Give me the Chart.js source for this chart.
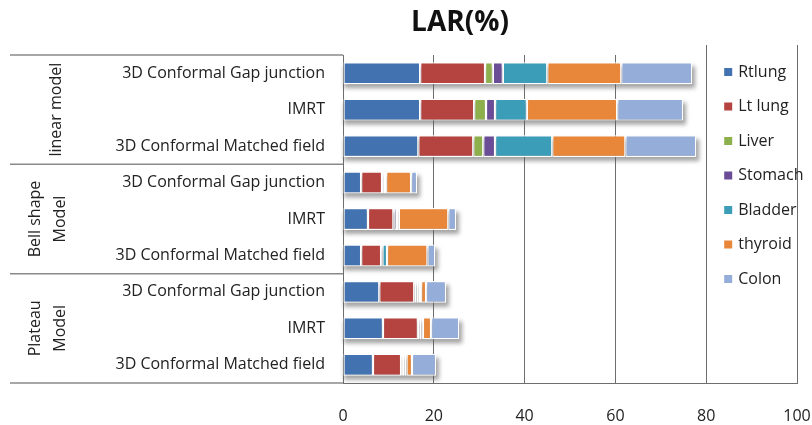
<!DOCTYPE html>
<html>
<head>
<meta charset="utf-8">
<script src="https://cdn.jsdelivr.net/npm/chart.js@4"></script>
<style>
  body { margin: 0; background: #fff; }
  canvas { display: block; }
</style>
</head>
<body>
<canvas id="grafico" width="812" height="425"></canvas>
<script>
// Datos (LAR %)
const tecnicas = [
  '3D Conformal Gap junction', 'IMRT', '3D Conformal Matched field',
  '3D Conformal Gap junction', 'IMRT', '3D Conformal Matched field',
  '3D Conformal Gap junction', 'IMRT', '3D Conformal Matched field'
];
const modelos = [['linear model'], ['Bell shape', 'Model'], ['Plateau', 'Model']];
const organos = ['Rtlung', 'Lt lung', 'Liver', 'Stomach', 'Bladder', 'thyroid', 'Colon'];

const rtlung  = [17.0, 17.0, 16.6, 4.0, 5.5, 4.0, 8.0, 8.8, 6.6];
const ltlung  = [14.3, 11.9, 12.1, 4.6, 5.6, 4.4, 7.7, 7.7, 6.2];
const liver   = [1.7, 2.6, 2.2, 0.0, 0.2, 0.0, 0.5, 0.3, 0.4];
const stomach = [2.2, 2.0, 2.6, 0.4, 0.6, 0.3, 0.5, 0.5, 0.4];
const bladder = [9.8, 7.0, 12.6, 0.5, 0.4, 1.0, 0.5, 0.3, 0.4];
const thyroid = [16.3, 19.9, 16.1, 5.5, 10.9, 8.9, 1.1, 1.8, 1.2];
const colon   = [15.6, 14.5, 15.6, 1.3, 1.7, 1.7, 4.4, 6.2, 5.3];

const ticksX = [0, 20, 40, 60, 80, 100];

const series = [rtlung, ltlung, liver, stomach, bladder, thyroid, colon];
const colores = ['#4372b0', '#b5433f', '#8db04c', '#6b4c97', '#3b9db8', '#e8873a', '#94add9'];

const fuente = '"Open Sans", "DejaVu Sans", sans-serif';

// Sombra debajo de cada barra apilada
const sombraBarras = {
  id: 'sombraBarras',
  beforeDatasetsDraw(chart) {
    const ctx = chart.ctx;
    const x = chart.scales.x;
    const primera = chart.getDatasetMeta(0);
    ctx.save();
    ctx.filter = 'blur(2px)';
    ctx.fillStyle = 'rgba(90,90,90,0.55)';
    tecnicas.forEach((t, i) => {
      const total = series.reduce((s, arr) => s + arr[i], 0);
      const bar = primera.data[i];
      const x0 = x.getPixelForValue(0);
      const x1 = x.getPixelForValue(total);
      ctx.fillRect(x0 + 1, bar.y - bar.height / 2 + 4, x1 - x0 + 2, bar.height);
    });
    ctx.restore();
  }
};

// Titulo, grupos de modelos y leyenda dibujados a mano
const decoracion = {
  id: 'decoracion',
  afterDraw(chart) {
    const ctx = chart.ctx;
    const area = chart.chartArea;
    const x = chart.scales.x;
    const y = chart.scales.y;
    ctx.save();

    // titulo
    ctx.fillStyle = '#111';
    ctx.font = 'bold 28px ' + fuente;
    ctx.textAlign = 'center';
    ctx.textBaseline = 'middle';
    ctx.fillText('LAR(%)', 460, 23);

    // separadores de grupos
    const paso = (y.getPixelForValue(1) - y.getPixelForValue(0));
    ctx.strokeStyle = '#8a8a8a';
    ctx.lineWidth = 1.5;
    for (let g = 0; g <= 3; g++) {
      const yy = y.getPixelForValue(g * 3) - paso / 2;
      ctx.beginPath();
      ctx.moveTo(10, yy);
      ctx.lineTo(area.left, yy);
      ctx.stroke();
    }

    // nombres de modelos (rotados)
    ctx.fillStyle = '#222';
    ctx.font = '16px ' + fuente;
    modelos.forEach((lineas, g) => {
      const yc = y.getPixelForValue(g * 3 + 1);
      ctx.save();
      ctx.translate(lineas.length === 1 ? 56 : 35, yc);
      ctx.rotate(-Math.PI / 2);
      lineas.forEach((txt, k) => {
        ctx.fillText(txt, 0, k * 25);
      });
      ctx.restore();
    });

    // leyenda sobre la zona 80-100
    const lx0 = x.getPixelForValue(80);
    const lx1 = x.getPixelForValue(100);
    ctx.strokeStyle = '#6e6e6e';
    ctx.lineWidth = 1;
    [lx0, lx1].forEach(px => {
      ctx.beginPath();
      ctx.moveTo(Math.round(px) + 0.5, 45);
      ctx.lineTo(Math.round(px) + 0.5, area.top);
      ctx.stroke();
    });
    ctx.textAlign = 'left';
    ctx.font = '16px ' + fuente;
    organos.forEach((nombre, k) => {
      const yy = 72 + k * 34.5;
      ctx.fillStyle = colores[k];
      ctx.fillRect(lx0 + 18, yy - 4, 8, 8);
      ctx.fillStyle = '#222';
      ctx.fillText(nombre, lx0 + 32, yy);
    });
    ctx.restore();
  }
};

const ctx = document.getElementById('grafico').getContext('2d');
const chart = new Chart(ctx, {
  type: 'bar',
  data: {
    labels: tecnicas,
    datasets: series.map((arr, k) => ({
      label: organos[k],
      data: arr,
      backgroundColor: colores[k],
      borderColor: '#ffffff',
      // los tramos muy finos quedan casi blancos, como en el original
      borderWidth: c => (c.raw < 0.55 ? 4 : 1.2),
      borderSkipped: false,
      categoryPercentage: 1.0,
      barPercentage: 0.6
    }))
  },
  options: {
    indexAxis: 'y',
    responsive: false,
    animation: false,
    layout: { padding: { top: 55, right: 15, left: 0, bottom: 0 } },
    plugins: {
      legend: { display: false },
      title: { display: false },
      tooltip: { enabled: false }
    },
    scales: {
      x: {
        stacked: true,
        min: 0,
        max: 100,
        afterBuildTicks(s) { s.ticks = ticksX.map(v => ({ value: v })); },
        afterFit(s) { s.height = 42; s.paddingRight = 0; s.paddingLeft = 0; },
        grid: { color: '#6e6e6e', lineWidth: 1, drawTicks: false },
        border: { color: '#6e6e6e', width: 1 },
        ticks: { color: '#222', padding: 24, font: { family: fuente, size: 16 } }
      },
      y: {
        stacked: true,
        afterFit(s) { s.width = 343; },
        grid: { display: false, drawTicks: false },
        border: { color: '#6e6e6e', width: 1 },
        ticks: { color: '#222', padding: 18, font: { family: fuente, size: 16 } }
      }
    }
  },
  plugins: [sombraBarras, decoracion]
});
</script>
</body>
</html>
